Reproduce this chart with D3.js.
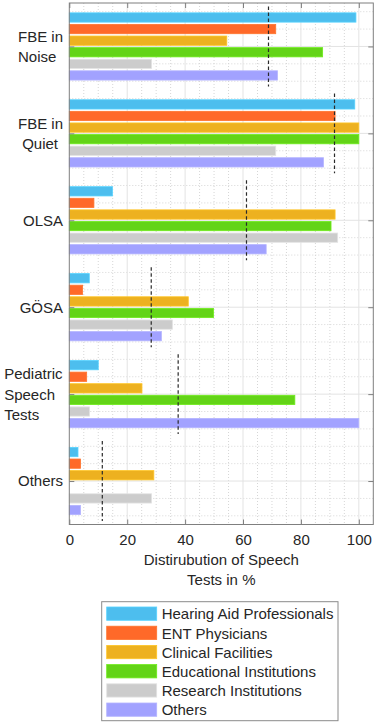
<!DOCTYPE html>
<html>
<head>
<meta charset="utf-8">
<script src="https://cdn.jsdelivr.net/npm/d3@7"></script>
<style>
  html, body { margin: 0; padding: 0; background: #fff; }
  svg { display: block; font-family: "Liberation Sans", Arial, sans-serif; }
</style>
</head>
<body>
<div id="chart"></div>
<script>
// ---------- data ----------
const categories = ["FBE in\nNoise", "FBE in\n Quiet", "OLSA", "GÖSA", "Pediatric\nSpeech\nTests", "Others"];
const seriesNames = ["Hearing Aid Professionals", "ENT Physicians", "Clinical Facilities",
                     "Educational Institutions", "Research Institutions", "Others"];
const hearingAid   = [99.0, 98.6, 14.9,  6.9, 10.0,  3.0];
const entPhys      = [71.3, 91.8,  8.5,  4.6,  6.0,  3.9];
const clinical     = [54.4, 100,  91.8, 41.1, 25.1, 29.2];
const educational  = [87.5, 100,  90.4, 49.8, 77.9,  0.0];
const research     = [28.4, 71.3, 92.7, 35.6,  7.0, 28.4];
const others       = [71.9, 87.8, 68.0, 31.8, 100,   3.9];
const meanValues   = [68.8, 91.6, 61.2, 28.3, 37.6, 11.4];
const xTicks = [0, 20, 40, 60, 80, 100];
const xLabel = ["Distirubution of Speech", "Tests in %"];
const colors = ["#4DBEEE", "#FF6929", "#EDB120", "#63D417", "#CCCCCC", "#A2A2FF"];

const seriesValues = [hearingAid, entPhys, clinical, educational, research, others];

// ---------- layout ----------
(function () {
const W = 378, H = 725;
const pL = 69.3, pR = 373.3, pT = 3, pB = 524.5;
const fontSize = 15;
const textColor = "#262626";
const axisColor = "#7f7f7f";

const svg = d3.select("#chart").append("svg").attr("width", W).attr("height", H);

const x = d3.scaleLinear().domain([0, 105]).range([pL, pR]);
const y = d3.scaleLinear().domain([0.5, 6.5]).range([pT, pB]);

const nS = seriesValues.length;
const groupW = 0.8;
const slot = groupW / nS;
const barH = slot * 0.8;

// ---------- grid ----------
const grid = svg.append("g");
const minorX = d3.range(5, 105, 5).filter(v => v % 20 !== 0);
grid.selectAll("line.mx").data(minorX).enter().append("line")
  .attr("x1", d => x(d)).attr("x2", d => x(d)).attr("y1", pT).attr("y2", pB)
  .attr("stroke", "#d6d6d6").attr("stroke-width", 1).attr("stroke-dasharray", "1,2");
const minorY = d3.range(6, 65, 2).map(v => v / 10).filter(v => Math.abs(v - Math.round(v)) > 0.01);
grid.selectAll("line.my").data(minorY).enter().append("line")
  .attr("x1", pL).attr("x2", pR).attr("y1", d => y(d)).attr("y2", d => y(d))
  .attr("stroke", "#d6d6d6").attr("stroke-width", 1).attr("stroke-dasharray", "1,2");
grid.selectAll("line.Mx").data(xTicks.filter(d => d > 0)).enter().append("line")
  .attr("x1", d => x(d)).attr("x2", d => x(d)).attr("y1", pT).attr("y2", pB)
  .attr("stroke", "#e3e3e3").attr("stroke-width", 1);
grid.selectAll("line.My").data(d3.range(1, 7)).enter().append("line")
  .attr("x1", pL).attr("x2", pR).attr("y1", d => y(d)).attr("y2", d => y(d))
  .attr("stroke", "#e3e3e3").attr("stroke-width", 1);

// ---------- bars ----------
const bars = svg.append("g");
seriesValues.forEach((vals, s) => {
  const off = (s - (nS - 1) / 2) * slot;
  bars.selectAll(null).data(vals).enter().append("rect")
    .attr("x", x(0))
    .attr("y", (d, i) => y(i + 1 + off - barH / 2))
    .attr("width", d => Math.max(0, x(d) - x(0)))
    .attr("height", y(barH) - y(0))
    .attr("fill", colors[s])
    .attr("stroke", d3.color(colors[s]).brighter(0.3))
    .attr("stroke-width", d => d > 0 ? 0.8 : 0);
});

// ---------- mean lines ----------
svg.append("g").selectAll("line").data(meanValues).enter().append("line")
  .attr("x1", d => x(d)).attr("x2", d => x(d))
  .attr("y1", (d, i) => y(i + 1 - 0.46)).attr("y2", (d, i) => y(i + 1 + 0.46))
  .attr("stroke", "#2a2a2a").attr("stroke-width", 1.2).attr("stroke-dasharray", "3.5,2.5");

// ---------- axes ----------
const axB = svg.append("g").attr("transform", `translate(0,${pB})`)
  .call(d3.axisBottom(x).tickValues(xTicks).tickSize(-5).tickPadding(10).tickFormat(d3.format("d")));
const axT = svg.append("g").attr("transform", `translate(0,${pT})`)
  .call(d3.axisTop(x).tickValues(xTicks).tickSize(-5).tickFormat(""));
const axL = svg.append("g").attr("transform", `translate(${pL},0)`)
  .call(d3.axisLeft(y).tickValues(d3.range(1, 7)).tickSize(-5).tickFormat(""));
const axR = svg.append("g").attr("transform", `translate(${pR},0)`)
  .call(d3.axisRight(y).tickValues(d3.range(1, 7)).tickSize(-5).tickFormat(""));
[axB, axT, axL, axR].forEach(g => {
  g.selectAll(".domain").remove();
  g.selectAll(".tick line").attr("stroke", axisColor);
  g.selectAll("text").attr("fill", textColor).attr("font-size", fontSize)
    .attr("font-family", "Liberation Sans, Arial, sans-serif");
});
svg.append("rect").attr("x", pL).attr("y", pT).attr("width", pR - pL).attr("height", pB - pT)
  .attr("fill", "none").attr("stroke", axisColor).attr("stroke-width", 1);

// ---------- y labels ----------
const lineH = 20.5;
const spaceW = fontSize * 0.278;
const yLab = svg.append("g").attr("font-size", fontSize).attr("fill", textColor);
categories.forEach((c, i) => {
  const lines = c.split("\n");
  const t = yLab.append("text").attr("y", 0);
  const base = y(i + 1) + 5.4 - (lines.length - 1) * lineH / 2;
  lines.forEach((ln, k) => {
    const lead = ln.length - ln.replace(/^ +/, "").length;
    t.append("tspan").attr("x", lead * spaceW).attr("y", base + k * lineH).text(ln.trim());
  });
  const bb = t.node().getBBox();
  t.attr("transform", `translate(${pL - 6.3 - (bb.x + bb.width)},0)`);
});

// ---------- x label ----------
const xl = svg.append("text").attr("text-anchor", "middle").attr("font-size", fontSize).attr("fill", textColor);
xLabel.forEach((ln, k) => {
  xl.append("tspan").attr("x", (pL + pR) / 2).attr("y", 565 + k * 20.3).text(ln);
});

// ---------- legend ----------
const lg = svg.append("g");
lg.append("rect").attr("x", 101.7).attr("y", 601.7).attr("width", 236.3).attr("height", 119)
  .attr("fill", "#fff").attr("stroke", "#8a8a8a").attr("stroke-width", 1);
const rowY = d3.scaleLinear().domain([0, 1]).range([607, 626.2]);
seriesNames.forEach((nm, s) => {
  lg.append("rect").attr("x", 106.7).attr("y", rowY(s)).attr("width", 50).attr("height", 13.3)
    .attr("fill", colors[s]).attr("stroke", d3.color(colors[s]).brighter(0.3)).attr("stroke-width", 0.8);
  lg.append("text").attr("x", 161.7).attr("y", rowY(s) + 12.4)
    .attr("font-size", fontSize).attr("fill", textColor).text(nm);
});
})();
</script>
</body>
</html>
